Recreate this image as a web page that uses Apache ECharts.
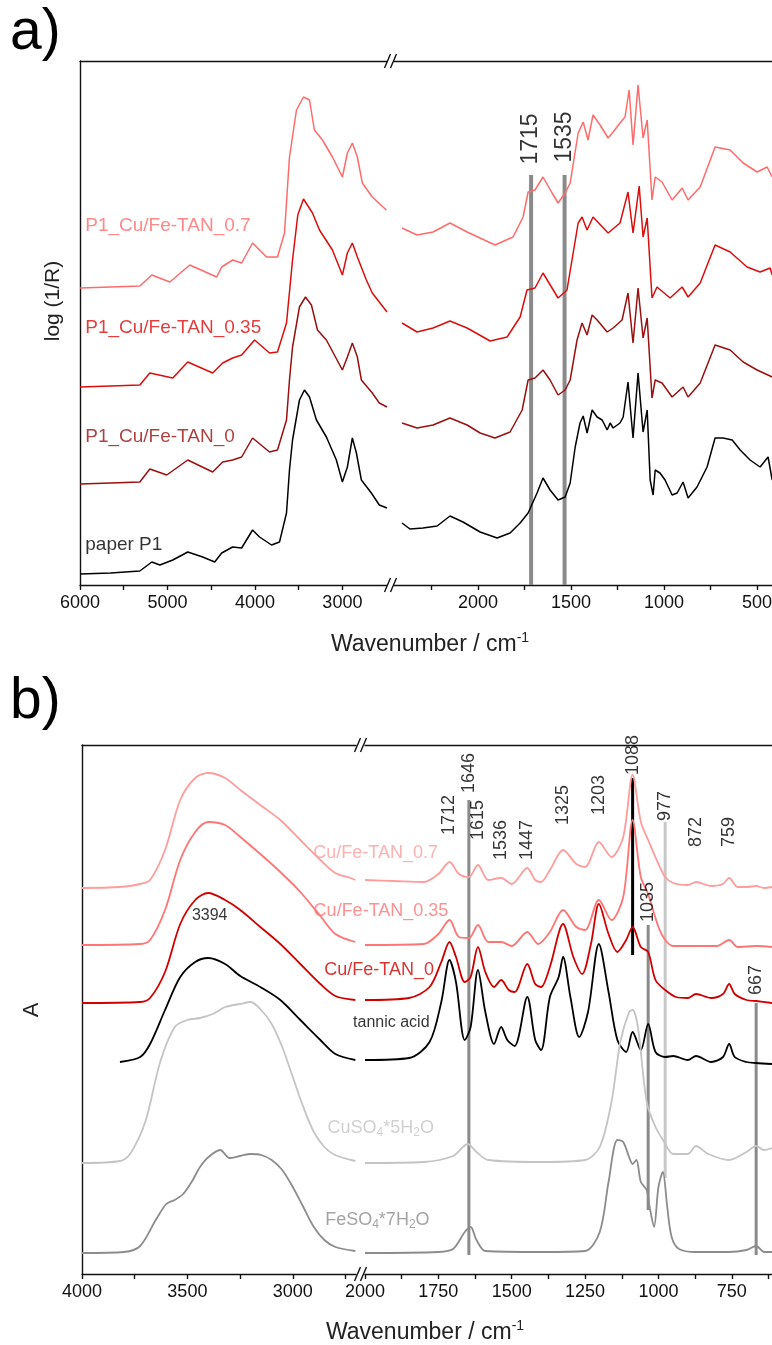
<!DOCTYPE html>
<html><head><meta charset="utf-8">
<script src="https://cdn.jsdelivr.net/npm/echarts@6/dist/echarts.min.js"></script>
<style>html,body{margin:0;padding:0;background:#fff}#c{width:772px;height:1345px}</style>
</head><body><div id="c"></div>
<script>
// ---------------- DATA ----------------
// Panel a (wavenumber, log(1/R) offset units)
const aPaperL = [[6000,0.11],[5650,0.12],[5316,0.14],[5179,0.23],[5087,0.20],[4939,0.25],[4768,0.33],[4597,0.28],[4460,0.23],[4380,0.32],[4255,0.38],[4152,0.37],[4027,0.55],[3947,0.48],[3810,0.40],[3719,0.43],[3639,0.72],[3605,1.15],[3570,1.45],[3491,1.85],[3434,1.95],[3376,1.88],[3297,1.65],[3183,1.48],[3069,1.25],[3000,1.03],[2943,1.18],[2886,1.47],[2840,1.32],[2783,1.05],[2669,0.92],[2578,0.80],[2490,0.77]];
const aPaperR = [[2409,0.62],[2366,0.56],[2296,0.57],[2220,0.59],[2151,0.69],[2081,0.63],[1989,0.53],[1898,0.47],[1828,0.52],[1774,0.62],[1731,0.72],[1683,0.92],[1651,1.07],[1613,0.95],[1570,0.85],[1532,0.88],[1505,1.02],[1478,1.38],[1452,1.62],[1435,1.69],[1414,1.52],[1387,1.75],[1360,1.68],[1333,1.65],[1306,1.55],[1290,1.62],[1274,1.57],[1237,1.62],[1220,1.68],[1194,2.03],[1167,1.47],[1140,2.12],[1113,1.53],[1091,1.75],[1075,1.05],[1059,0.90],[1048,1.15],[1022,1.12],[995,1.05],[957,0.90],[930,0.92],[898,1.03],[871,0.87],[823,0.98],[769,1.18],[726,1.47],[683,1.47],[634,1.45],[591,1.35],[538,1.25],[484,1.18],[441,1.28],[419,1.05]];
const aTan0L = [[6000,1.01],[5650,1.02],[5316,1.03],[5202,1.16],[5008,1.10],[4768,1.25],[4483,1.13],[4369,1.23],[4255,1.25],[4152,1.28],[4027,1.47],[3833,1.33],[3742,1.35],[3639,1.65],[3605,2.05],[3570,2.38],[3491,2.78],[3422,2.88],[3354,2.80],[3285,2.55],[3183,2.45],[3000,2.15],[2943,2.28],[2886,2.42],[2829,2.28],[2783,2.05],[2658,1.92],[2578,1.82],[2490,1.78]];
const aTan0R = [[2409,1.62],[2328,1.57],[2242,1.60],[2151,1.67],[2059,1.60],[1989,1.52],[1909,1.47],[1828,1.53],[1763,1.75],[1731,2.05],[1694,2.07],[1651,2.15],[1613,2.05],[1570,1.90],[1532,1.95],[1505,2.05],[1468,2.45],[1441,2.62],[1414,2.50],[1387,2.70],[1360,2.65],[1306,2.53],[1274,2.57],[1226,2.65],[1194,2.92],[1167,2.42],[1140,2.97],[1113,2.47],[1091,2.67],[1065,1.87],[1048,2.05],[1011,2.02],[957,1.88],[898,1.98],[871,1.88],[806,2.02],[726,2.40],[645,2.35],[575,2.23],[500,2.15],[419,2.08]];
const aTan35L = [[6000,1.98],[5650,1.99],[5316,2.00],[5202,2.12],[4939,2.07],[4768,2.23],[4483,2.12],[4369,2.22],[4255,2.27],[4152,2.30],[4004,2.45],[3833,2.32],[3742,2.33],[3639,2.62],[3570,3.25],[3510,3.70],[3445,3.86],[3342,3.72],[3262,3.55],[3114,3.35],[3000,3.10],[2943,3.32],[2886,3.42],[2829,3.28],[2726,3.05],[2658,2.92],[2490,2.73]];
const aTan35R = [[2409,2.62],[2328,2.53],[2242,2.57],[2151,2.64],[2059,2.57],[1935,2.44],[1844,2.48],[1774,2.68],[1737,2.95],[1694,2.97],[1651,3.12],[1570,2.87],[1522,2.95],[1462,3.62],[1441,3.68],[1414,3.55],[1382,3.68],[1301,3.52],[1237,3.62],[1194,3.93],[1167,3.52],[1134,3.99],[1113,3.48],[1091,3.67],[1065,2.87],[1038,2.98],[968,2.87],[903,2.98],[871,2.88],[806,3.02],[726,3.40],[645,3.33],[554,3.18],[484,3.13],[430,3.17],[419,3.10]];
const aTan70L = [[6000,2.97],[5650,2.98],[5316,2.99],[5179,3.10],[4973,3.03],[4745,3.20],[4437,3.08],[4380,3.18],[4255,3.25],[4152,3.22],[4027,3.42],[3867,3.28],[3742,3.28],[3662,3.52],[3605,4.28],[3525,4.75],[3445,4.88],[3376,4.85],[3320,4.55],[3228,4.45],[3114,4.28],[3000,4.08],[2943,4.32],[2886,4.42],[2829,4.28],[2772,4.02],[2658,3.88],[2498,3.75]];
const aTan70R = [[2409,3.57],[2328,3.50],[2242,3.53],[2151,3.62],[2059,3.53],[1909,3.40],[1812,3.48],[1758,3.68],[1731,3.93],[1694,3.95],[1651,4.08],[1602,3.92],[1570,3.82],[1532,3.92],[1505,4.02],[1462,4.52],[1435,4.63],[1409,4.45],[1382,4.70],[1344,4.60],[1301,4.47],[1274,4.53],[1237,4.62],[1210,4.68],[1188,4.95],[1167,4.40],[1140,5.00],[1113,4.47],[1091,4.65],[1065,3.85],[1048,4.08],[1011,4.03],[957,3.85],[903,3.97],[871,3.85],[806,3.98],[726,4.38],[645,4.35],[575,4.22],[500,4.13],[446,4.18],[419,4.08]];
const aNames = ['paper P1','P1_Cu/Fe-TAN_0','P1_Cu/Fe-TAN_0.35','P1_Cu/Fe-TAN_0.7'];
const aNamePos = [[5940,0.40],[5940,1.48],[5940,2.57],[5940,3.59]];
const aMarkWn = [1715,1535];
const aMarkTop = [4.10,4.10];
const aMarkLabelY = [4.46,4.48];

// Panel b (wavenumber, absorbance offset units)
const bTan70L = [[4000,3.94],[3820,3.95],[3724,3.98],[3677,4.02],[3606,4.32],[3534,4.82],[3463,5.04],[3401,5.09],[3321,5.04],[3249,4.92],[3154,4.77],[3059,4.62],[2964,4.42],[2869,4.22],[2798,4.09],[2727,4.04],[2703,4.02]];
const bTan70R = [[2000,4.02],[1900,4.01],[1800,4.00],[1750,4.08],[1712,4.20],[1680,4.08],[1646,4.05],[1615,4.17],[1580,4.02],[1536,4.04],[1500,3.98],[1447,4.14],[1420,4.02],[1400,4.00],[1370,4.12],[1325,4.32],[1280,4.18],[1250,4.15],[1203,4.40],[1160,4.25],[1120,4.45],[1088,5.07],[1060,4.60],[1035,4.42],[1000,4.18],[977,4.05],[950,3.99],[900,3.97],[872,4.00],[820,3.96],[780,3.98],[759,4.04],[730,3.95],[700,3.95],[667,3.96],[640,3.94],[613,3.95]];
const bTan35L = [[4000,3.37],[3724,3.38],[3677,3.42],[3606,3.72],[3534,4.22],[3463,4.50],[3401,4.60],[3321,4.57],[3249,4.45],[3154,4.28],[3059,4.10],[2964,3.90],[2869,3.66],[2798,3.48],[2703,3.40]];
const bTan35R = [[2000,3.37],[1800,3.38],[1750,3.48],[1712,3.62],[1680,3.45],[1646,3.44],[1615,3.57],[1580,3.40],[1536,3.40],[1500,3.36],[1447,3.50],[1410,3.38],[1370,3.50],[1325,3.72],[1280,3.55],[1250,3.52],[1203,3.82],[1160,3.62],[1120,3.85],[1088,4.62],[1060,4.05],[1035,3.88],[1000,3.55],[977,3.42],[950,3.36],[872,3.36],[800,3.36],[759,3.42],[730,3.35],[667,3.36],[613,3.35]];
const bTan0L = [[4000,2.79],[3724,2.80],[3677,2.84],[3606,3.10],[3534,3.58],[3463,3.82],[3401,3.89],[3321,3.82],[3249,3.72],[3154,3.55],[3059,3.38],[2964,3.18],[2869,2.98],[2798,2.86],[2703,2.82]];
const bTan0R = [[2000,2.82],[1850,2.84],[1780,2.95],[1740,3.20],[1712,3.40],[1690,3.25],[1660,3.00],[1640,3.05],[1615,3.35],[1590,3.10],[1560,2.95],[1536,3.02],[1510,2.92],[1490,2.90],[1447,3.18],[1420,2.98],[1400,2.95],[1370,3.15],[1325,3.58],[1290,3.25],[1260,3.08],[1230,3.38],[1203,3.78],[1170,3.48],[1140,3.30],[1110,3.42],[1088,3.55],[1060,3.35],[1035,3.30],[1010,3.02],[977,2.92],[940,2.85],[900,2.84],[872,2.88],[820,2.84],[780,2.88],[759,2.98],[740,2.88],[700,2.82],[667,2.81],[613,2.79]];
const bTannicL = [[3820,2.20],[3724,2.25],[3677,2.38],[3606,2.72],[3534,3.05],[3463,3.20],[3401,3.24],[3321,3.18],[3249,3.06],[3154,2.95],[3059,2.82],[2964,2.62],[2869,2.42],[2798,2.28],[2703,2.22]];
const bTannicR = [[2000,2.22],[1850,2.24],[1780,2.40],[1740,2.80],[1712,3.22],[1690,3.00],[1660,2.42],[1640,2.55],[1615,3.12],[1590,2.70],[1560,2.38],[1536,2.55],[1515,2.42],[1490,2.36],[1447,2.85],[1420,2.42],[1400,2.32],[1370,2.85],[1340,3.05],[1325,3.25],[1300,2.85],[1270,2.45],[1240,2.70],[1203,3.38],[1170,2.90],[1140,2.42],[1110,2.30],[1088,2.50],[1060,2.32],[1035,2.58],[1010,2.30],[977,2.25],[950,2.26],[900,2.22],[872,2.26],[820,2.20],[780,2.25],[759,2.38],[740,2.25],[700,2.20],[667,2.19],[613,2.18]];
const bCuL = [[4000,1.19],[3820,1.21],[3772,1.28],[3700,1.60],[3629,2.20],[3560,2.55],[3500,2.62],[3440,2.64],[3380,2.68],[3320,2.75],[3250,2.78],[3200,2.80],[3150,2.72],[3100,2.58],[3050,2.35],[3000,2.05],[2950,1.75],[2900,1.50],[2850,1.35],[2800,1.27],[2703,1.21]];
const bCuR = [[2000,1.19],[1800,1.20],[1700,1.26],[1650,1.38],[1620,1.30],[1580,1.22],[1400,1.20],[1250,1.22],[1200,1.35],[1160,1.80],[1130,2.40],[1100,2.70],[1088,2.72],[1070,2.55],[1040,1.80],[1010,1.55],[980,1.40],[950,1.28],[900,1.28],[872,1.36],[830,1.28],[760,1.22],[700,1.30],[667,1.36],[640,1.32],[613,1.34]];
const bFeL = [[4000,0.29],[3800,0.30],[3724,0.36],[3650,0.62],[3600,0.78],[3560,0.82],[3520,0.88],[3480,1.00],[3440,1.15],[3400,1.25],[3344,1.32],[3300,1.24],[3250,1.26],[3200,1.28],[3150,1.27],[3100,1.22],[3050,1.12],[3000,0.95],[2950,0.75],[2900,0.55],[2850,0.42],[2798,0.35],[2703,0.31]];
const bFeR = [[2000,0.29],[1750,0.30],[1700,0.33],[1660,0.50],[1640,0.55],[1620,0.42],[1590,0.31],[1400,0.30],[1250,0.31],[1200,0.50],[1170,1.00],[1140,1.42],[1120,1.40],[1100,1.25],[1088,1.18],[1075,1.22],[1060,1.00],[1040,0.92],[1030,0.75],[1015,0.55],[1000,0.95],[985,1.10],[970,0.75],[955,0.45],[930,0.33],[872,0.30],[760,0.30],[700,0.32],[667,0.36],[640,0.30],[613,0.30]];
const bNames = ['Cu/Fe-TAN_0.7','Cu/Fe-TAN_0.35','Cu/Fe-TAN_0','tannic acid','CuSO{s|4}*5H{s|2}O','FeSO{s|4}*7H{s|2}O'];
const bNamePos = [[1751,4.29],[1716,3.71],[1765,3.12],[1780,2.59],[1765,1.54],[1780,0.62]];
const bMarkWn = [1646,1088,1035,977,667];
const bMarkTop = [4.82,5.04,3.57,4.60,2.79];
const bMarkBottom = [0.27,3.27,0.72,1.04,0.27];
const bPeakText = ['1712','1646','1615','1536','1447','1325','1203','1088','977','872','759','1035','667'];
const bPeakWn = [1712,1646,1615,1536,1447,1325,1203,1088,977,872,759,1035,667];
const bPeakY = [4.67,5.09,4.62,4.42,4.42,4.77,4.87,5.27,4.76,4.50,4.50,3.80,3.02];
const bOHLabel = [[3394,3.66,'3394']];

// Ticks
const aTicksL = [6000,5500,5000,4500,4000,3500,3000];
const aLabelsL = [6000,5000,4000,3000];
const aTicksR = [2250,2000,1750,1500,1250,1000,750,500];
const aLabelsR = [2000,1500,1000,500];
const bTicksL = [4000,3750,3500,3250,3000,2750];
const bLabelsL = [4000,3500,3000];
const bTicksR = [2000,1875,1750,1625,1500,1375,1250,1125,1000,875,750,625];
const bLabelsR = [2000,1750,1500,1250,1000,750];

// ---------------- CHART ----------------
const FONT = 'Liberation Sans, Arial, sans-serif';
const chart = echarts.init(document.getElementById('c'), null, {renderer: 'canvas'});

const grids = [
  {left: 80, top: 61, width: 307, height: 524},
  {left: 394, top: 61, width: 378, height: 524},
  {left: 82, top: 745, width: 274, height: 529},
  {left: 365, top: 745, width: 407, height: 529}
].map(g => Object.assign({outerBoundsMode: 'none', containLabel: false}, g));
const ranges = [[2490, 6000], [420, 2452], [2700, 4000], [613, 2000]];
const tickSets = [[aTicksL, aLabelsL], [aTicksR, aLabelsR], [bTicksL, bLabelsL], [bTicksR, bLabelsR]];

const xAxes = [];
ranges.forEach((r, i) => {
  xAxes.push({
    type: 'value', gridIndex: i, inverse: true, min: r[0], max: r[1], position: 'bottom',
    axisLine: {show: true, onZero: false, lineStyle: {color: '#111', width: 1.4}},
    axisTick: {show: true, length: 5, inside: false, customValues: tickSets[i][0], lineStyle: {color: '#111', width: 1.4}},
    axisLabel: {show: true, customValues: tickSets[i][1], formatter: v => String(v), hideOverlap: false,
      fontSize: 18, color: '#111', fontFamily: FONT, margin: 9},
    splitLine: {show: false}
  });
});
ranges.forEach((r, i) => {
  xAxes.push({
    type: 'value', gridIndex: i, inverse: true, min: r[0], max: r[1], position: 'top',
    axisLine: {show: true, onZero: false, lineStyle: {color: '#111', width: 1.4}},
    axisTick: {show: false}, axisLabel: {show: false}, splitLine: {show: false}
  });
});
const yAxes = [
  {gridIndex: 0, min: 0, max: 5.24, axisLine: {show: true, lineStyle: {color: '#111', width: 1.4}}, axisTick: {show: false}, axisLabel: {show: false}, splitLine: {show: false}},
  {gridIndex: 1, min: 0, max: 5.24, show: false},
  {gridIndex: 2, min: 0.08, max: 5.37, axisLine: {show: true, lineStyle: {color: '#111', width: 1.4}}, axisTick: {show: false}, axisLabel: {show: false}, splitLine: {show: false}},
  {gridIndex: 3, min: 0.08, max: 5.37, show: false}
];

const series = [];
function spec(grid, data, color, width, smooth) {
  series.push({type: 'line', xAxisIndex: grid, yAxisIndex: grid, data: data, showSymbol: false, smooth: smooth || false,
    lineStyle: {color: color, width: width}, silent: true, z: 3});
}
function vline(grid, wn, top, bottom, color, width) {
  series.push({type: 'line', xAxisIndex: grid, yAxisIndex: grid, data: [[wn, top], [wn, bottom]], showSymbol: false,
    lineStyle: {color: color, width: width}, silent: true, z: 2});
}
function labels(grid, pts, style) {
  series.push({type: 'scatter', xAxisIndex: grid, yAxisIndex: grid, symbolSize: 0, silent: true, z: 5,
    data: pts.map(p => ({value: [p[0], p[1]], label: {formatter: p[2]}})),
    label: Object.assign({show: true, position: 'inside', fontFamily: FONT}, style)});
}

// panel a
aMarkWn.forEach((wn, i) => vline(1, wn, aMarkTop[i], 0, '#8a8a8a', 4));
const aColors = ['#000000', '#9a0f0f', '#dd0d0d', '#ff6b6b'];
spec(0, aPaperL, aColors[0], 1.5); spec(1, aPaperR, aColors[0], 1.5);
spec(0, aTan0L, aColors[1], 1.5); spec(1, aTan0R, aColors[1], 1.5);
spec(0, aTan35L, aColors[2], 1.5); spec(1, aTan35R, aColors[2], 1.5);
spec(0, aTan70L, aColors[3], 1.5); spec(1, aTan70R, aColors[3], 1.5);
aNames.forEach((n, i) => labels(0, [[aNamePos[i][0], aNamePos[i][1], n]], {align: 'left', verticalAlign: 'middle', fontSize: 19, color: aColors[i]}));
labels(1, aMarkWn.map((wn, i) => [wn, aMarkLabelY[i], String(wn)]), {align: 'center', verticalAlign: 'middle', rotate: 90, fontSize: 23, color: '#000'});

// panel b
const bMarkColors = ['#8a8a8a', '#000000', '#8a8a8a', '#c8c8c8', '#8a8a8a'];
bMarkWn.forEach((wn, i) => vline(3, wn, bMarkTop[i], bMarkBottom[i], bMarkColors[i], 3));
const bColors = ['#ff9c9c', '#ff7474', '#d00000', '#000000', '#c4c4c4', '#8c8c8c'];
const bL = [bTan70L, bTan35L, bTan0L, bTannicL, bCuL, bFeL];
const bR = [bTan70R, bTan35R, bTan0R, bTannicR, bCuR, bFeR];
bL.forEach((d, i) => { spec(2, d, bColors[i], 1.8, 0.3); spec(3, bR[i], bColors[i], 1.8, 0.3); });
bNames.forEach((n, i) => {
  const fs = i === 3 ? 16 : 18;
  labels(3, [[bNamePos[i][0], bNamePos[i][1], '{n|' + n.replace(/\{s\|(\d)\}/g, '}{s|$1}{n|') + '}']],
  {align: 'right', verticalAlign: 'middle', color: bColors[i], fontSize: fs,
   rich: {n: {fontSize: fs, color: bColors[i], lineHeight: 22, verticalAlign: 'middle', fontFamily: FONT},
          s: {fontSize: 12, color: bColors[i], lineHeight: 22, verticalAlign: 'bottom', fontFamily: FONT}}});
});
labels(3, bPeakWn.map((wn, i) => [wn, bPeakY[i], bPeakText[i]]), {align: 'center', verticalAlign: 'middle', rotate: 90, fontSize: 18, color: '#000'});
labels(2, bOHLabel, {align: 'center', verticalAlign: 'middle', fontSize: 16, color: '#000'});

// break marks and titles
function breakMark(x, y) {
  return [-3, 3].map(dx => ({type: 'line', shape: {x1: x + dx - 3, y1: y + 7, x2: x + dx + 3, y2: y - 7}, style: {stroke: '#111', lineWidth: 1.4}, z: 10}));
}
const gA = grids[0], gB = grids[2];
const breakA = (grids[0].left + grids[0].width + grids[1].left) / 2;
const breakB = (grids[2].left + grids[2].width + grids[3].left) / 2;
const xTitle = (x, y) => ({type: 'text', x: x, y: y, style: {text: '{n|Wavenumber / cm}{p|-1}', align: 'center', verticalAlign: 'middle',
  rich: {n: {fontSize: 23, fontFamily: FONT, fill: '#222', lineHeight: 28, verticalAlign: 'middle'}, p: {fontSize: 14, fontFamily: FONT, fill: '#222', lineHeight: 28, verticalAlign: 'top'}}}});
const graphic = [].concat(
  breakMark(breakA, gA.top), breakMark(breakA, gA.top + gA.height),
  breakMark(breakB, gB.top), breakMark(breakB, gB.top + gB.height),
  [
    {type: 'text', left: 10, top: 5, style: {text: 'a)', font: '57px ' + FONT, fill: '#000'}},
    {type: 'text', left: 10, top: 674, style: {text: 'b)', font: '57px ' + FONT, fill: '#000'}},
    {type: 'text', x: 53, y: 301, rotation: Math.PI / 2, style: {text: 'log (1/R)', font: '21px ' + FONT, fill: '#222', align: 'center', verticalAlign: 'middle'}},
    {type: 'text', x: 32, y: 1010, rotation: Math.PI / 2, style: {text: 'A', font: '22px ' + FONT, fill: '#222', align: 'center', verticalAlign: 'middle'}},
    xTitle(430, 645),
    xTitle(425, 1333)
  ]
);

chart.setOption({
  animation: false,
  backgroundColor: '#fff',
  grid: grids,
  xAxis: xAxes,
  yAxis: yAxes,
  series: series,
  graphic: graphic
});
</script>
</body></html>
